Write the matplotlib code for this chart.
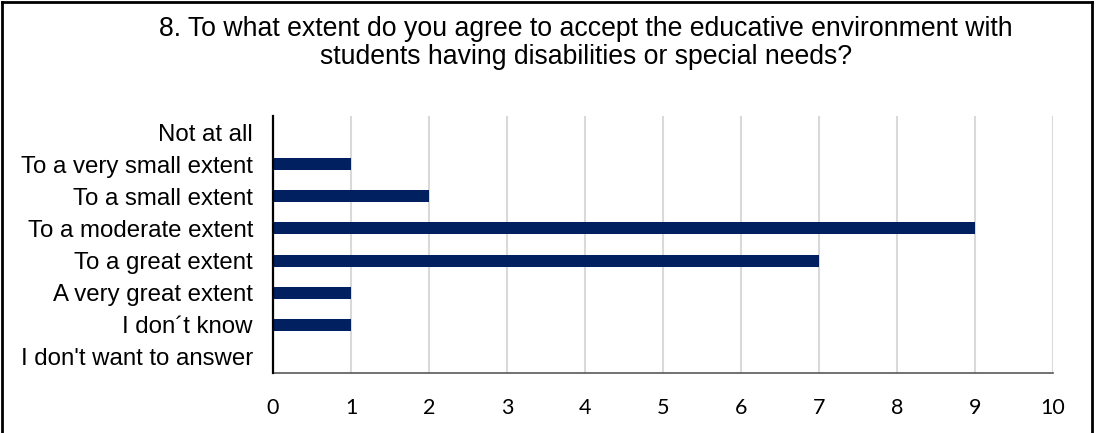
import matplotlib
matplotlib.use("Agg")
import matplotlib.pyplot as plt
from matplotlib.lines import Line2D

# survey answers, question 8
categories = ["Not at all", "To a very small extent", "To a small extent",
              "To a moderate extent", "To a great extent", "A very great extent",
              "I don\u00b4t know", "I don't want to answer"]
counts = [0, 1, 2, 9, 7, 1, 1, 0]
x_ticks = list(range(0, 11))
title = ("8. To what extent do you agree to accept the educative environment with\n"
         "students having disabilities or special needs?")

W, H = 1096, 433
fig = plt.figure(figsize=(W / 100, H / 100), dpi=100)
ax = fig.add_axes([273 / W, 1 - 373 / H, (1053 - 273) / W, (373 - 116) / H])

ypos = list(range(len(categories)))
ax.barh(ypos, counts, height=0.37, color="#002060", zorder=3)
ax.set_ylim(len(categories) - 0.5, -0.5)
ax.set_xlim(0, 10)

ax.set_yticks(ypos)
ax.set_yticklabels(categories, fontsize=17.3, family="Liberation Sans")
ax.set_xticks(x_ticks)
ax.set_xticklabels([str(v) for v in x_ticks], fontsize=15.5, family="Lato")
ax.tick_params(axis="y", length=0, pad=14.4)
ax.tick_params(axis="x", length=0, pad=18)

ax.grid(axis="x", color="#d9d9d9", lw=1.5, zorder=0)
for s in ("top", "right"):
    ax.spines[s].set_visible(False)
ax.spines["left"].set_color("black")
ax.spines["left"].set_linewidth(1.6)
ax.spines["left"].set_zorder(4)
ax.spines["bottom"].set_color("#595959")
ax.spines["bottom"].set_linewidth(1.2)

fig.text(586 / W, 1 - 43 / H, title, ha="center", va="center",
         fontsize=19.2, family="Liberation Sans", linespacing=1.1)

# outer frame (bottom edge falls outside the image)
xl, xr, yt = 1.5 / W, 1092 / W, 1 - 1.5 / H
for xs, ys in (([xl, xl], [0, yt]), ([xl, xr], [yt, yt]), ([xr, xr], [yt, 0])):
    fig.add_artist(Line2D(xs, ys, transform=fig.transFigure, color="black", lw=2))

fig.savefig("out.png", dpi=100)
